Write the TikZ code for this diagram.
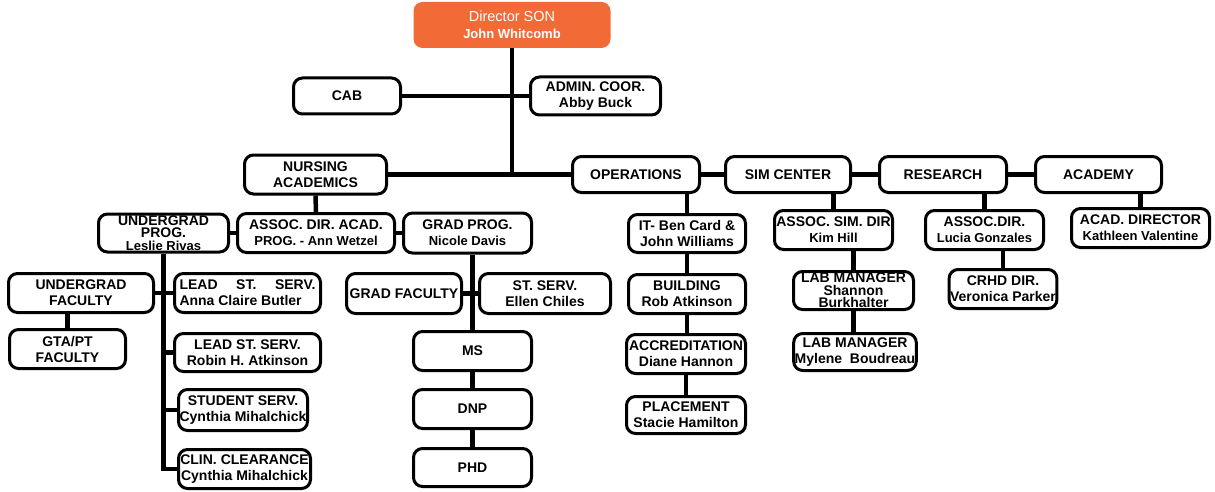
\documentclass[tikz,border=0pt]{standalone}
\usepackage{fontspec}
\setmainfont{Liberation Sans}
\usepackage{tikz}
\definecolor{sonorange}{HTML}{F26A36}
\tikzset{
  orgbox/.style={draw, line width=3pt, rounded corners=9pt, fill=white, align=center,
    inner sep=1pt, font=\bfseries\fontsize{14}{16}\selectfont},
  tightbox/.style={orgbox, font=\bfseries\fontsize{14}{12.5}\selectfont},
  headbox/.style={fill=sonorange, rounded corners=9pt, text=white, align=center,
    inner sep=1pt, font=\fontsize{14.5}{17}\selectfont},
  link/.style={line width=4.5pt},
}
\newcommand{\nm}[1]{{\fontsize{13}{14}\selectfont\bfseries #1}}
\begin{document}
\begin{tikzpicture}[x=1pt,y=-1pt]
\useasboundingbox (0,0) rectangle (1215,492);
%%Top
\node[headbox, minimum width=197, minimum height=46] (dir) at (512,25) {Director SON\\\nm{John Whitcomb}};
\node[orgbox, minimum width=107, minimum height=36] (cab) at (347,96) {CAB};
\node[orgbox, minimum width=130, minimum height=38] (admin) at (595.5,96) {ADMIN. COOR.\\Abby Buck};
%%Departments
\node[orgbox, minimum width=142, minimum height=39] (nursing) at (315.5,174.5) {NURSING\\ACADEMICS};
\node[orgbox, minimum width=127, minimum height=36] (ops) at (636,174.5) {OPERATIONS};
\node[orgbox, minimum width=125, minimum height=36] (sim) at (788,174.5) {SIM CENTER};
\node[orgbox, minimum width=127, minimum height=36] (res) at (943,174.5) {RESEARCH};
\node[orgbox, minimum width=126, minimum height=36] (academy) at (1098.5,174.5) {ACADEMY};
%%Second row
\node[tightbox, minimum width=130, minimum height=38] (ugprog) at (163.5,233) {UNDERGRAD\\PROG.\\\nm{Leslie Rivas}};
\node[orgbox, minimum width=157, minimum height=39] (assoc) at (316,233) {ASSOC. DIR. ACAD.\\\nm{PROG. - Ann Wetzel}};
\node[orgbox, minimum width=128, minimum height=40] (gradprog) at (467.5,233) {GRAD PROG.\\\nm{Nicole Davis}};
\node[orgbox, minimum width=117, minimum height=38] (it) at (687,233.5) {IT- Ben Card \&\\John Williams};
\node[orgbox, minimum width=118, minimum height=39] (asim) at (833.5,230) {ASSOC. SIM. DIR\\\nm{Kim Hill}};
\node[orgbox, minimum width=118, minimum height=39] (ares) at (984.5,230) {ASSOC.DIR.\\\nm{Lucia Gonzales}};
\node[orgbox, minimum width=138, minimum height=39] (acdir) at (1140.5,228) {ACAD. DIRECTOR\\\nm{Kathleen Valentine}};
%%Undergrad side
\node[orgbox, minimum width=145, minimum height=39] (ugfac) at (81,293) {UNDERGRAD\\FACULTY};
\node[orgbox, minimum width=116, minimum height=39] (gta) at (67.5,349) {GTA/PT\\FACULTY};
\node[orgbox, minimum width=146, minimum height=39, align=left] (lead1) at (247.5,293) {\makebox[136pt][s]{LEAD\hfill ST.\hfill SERV.}\\Anna Claire Butler};
\node[orgbox, minimum width=146, minimum height=38] (lead2) at (247.5,352.5) {LEAD ST. SERV.\\Robin H. Atkinson};
\node[orgbox, minimum width=129, minimum height=41] (stud) at (243,410) {STUDENT SERV.\\Cynthia Mihalchick};
\node[orgbox, minimum width=132, minimum height=39] (clin) at (244.5,469) {CLIN. CLEARANCE\\Cynthia Mihalchick};
%%Grad side
\node[orgbox, minimum width=115, minimum height=40] (gfac) at (404,293.5) {GRAD FACULTY};
\node[orgbox, minimum width=131, minimum height=40] (sserv) at (545,293.5) {ST. SERV.\\Ellen Chiles};
\node[orgbox, minimum width=118, minimum height=39] (ms) at (472.5,351) {MS};
\node[orgbox, minimum width=118, minimum height=39] (dnp) at (472.5,409) {DNP};
\node[orgbox, minimum width=118, minimum height=38] (phd) at (472.5,467.5) {PHD};
%%Operations
\node[orgbox, minimum width=117, minimum height=39] (build) at (687,294) {BUILDING\\Rob Atkinson};
\node[orgbox, minimum width=119, minimum height=39] (accr) at (686,354) {ACCREDITATION\\Diane Hannon};
\node[orgbox, minimum width=119, minimum height=37] (place) at (686,415) {PLACEMENT\\Stacie Hamilton};
%%Sim center and research
\node[tightbox, minimum width=120, minimum height=38] (lab1) at (853.5,290.5) {LAB MANAGER\\Shannon\\Burkhalter};
\node[orgbox, minimum width=121, minimum height=37] (lab2) at (855,352) {LAB MANAGER\\Mylene\ \ Boudreau};
\node[orgbox, minimum width=107, minimum height=39] (crhd) at (1003,289) {CRHD DIR.\\Veronica Parker};
%%Lines
\draw[link] (dir.south) -- (dir.south |- nursing.east);
\draw[link] (cab.east) -- (admin.west);
\draw[link] (nursing.east) -- (ops.west);
\draw[link] (ops.east) -- (sim.west);
\draw[link] (sim.east) -- (res.west);
\draw[link] (res.east) -- (academy.west);
\draw[link] (nursing.south) -- (assoc.north);
\draw[link] (ugprog.east) -- (assoc.west);
\draw[link] (assoc.east) -- (gradprog.west);
\draw[link] (it.north) -- (it.north |- ops.south);
\draw[link] (asim.north) -- (asim.north |- sim.south);
\draw[link] (ares.north) -- (ares.north |- res.south);
\draw[link] (acdir.north) -- (acdir.north |- academy.south);
\draw[link] (ugprog.south) -- (ugprog.south |- clin.west) -- (clin.west);
\draw[link] (ugfac.east) -- (lead1.west);
\draw[link] (lead2.west) -- (lead2.west -| ugprog.south);
\draw[link] (stud.west) -- (stud.west -| ugprog.south);
\draw[link] (gta.north) -- (gta.north |- ugfac.south);
\draw[link] (ms.north) -- (ms.north |- gradprog.south);
\draw[link] (gfac.east) -- (sserv.west);
\draw[link] (ms.south) -- (dnp.north);
\draw[link] (dnp.south) -- (phd.north);
\draw[link] (it.south) -- (it.south |- build.north);
\draw[link] (build.south) -- (build.south |- accr.north);
\draw[link] (accr.south) -- (place.north);
\draw[link] (lab1.north) -- (lab1.north |- asim.south);
\draw[link] (lab1.south) -- (lab1.south |- lab2.north);
\draw[link] (crhd.north) -- (crhd.north |- ares.south);
\end{tikzpicture}
\end{document}
